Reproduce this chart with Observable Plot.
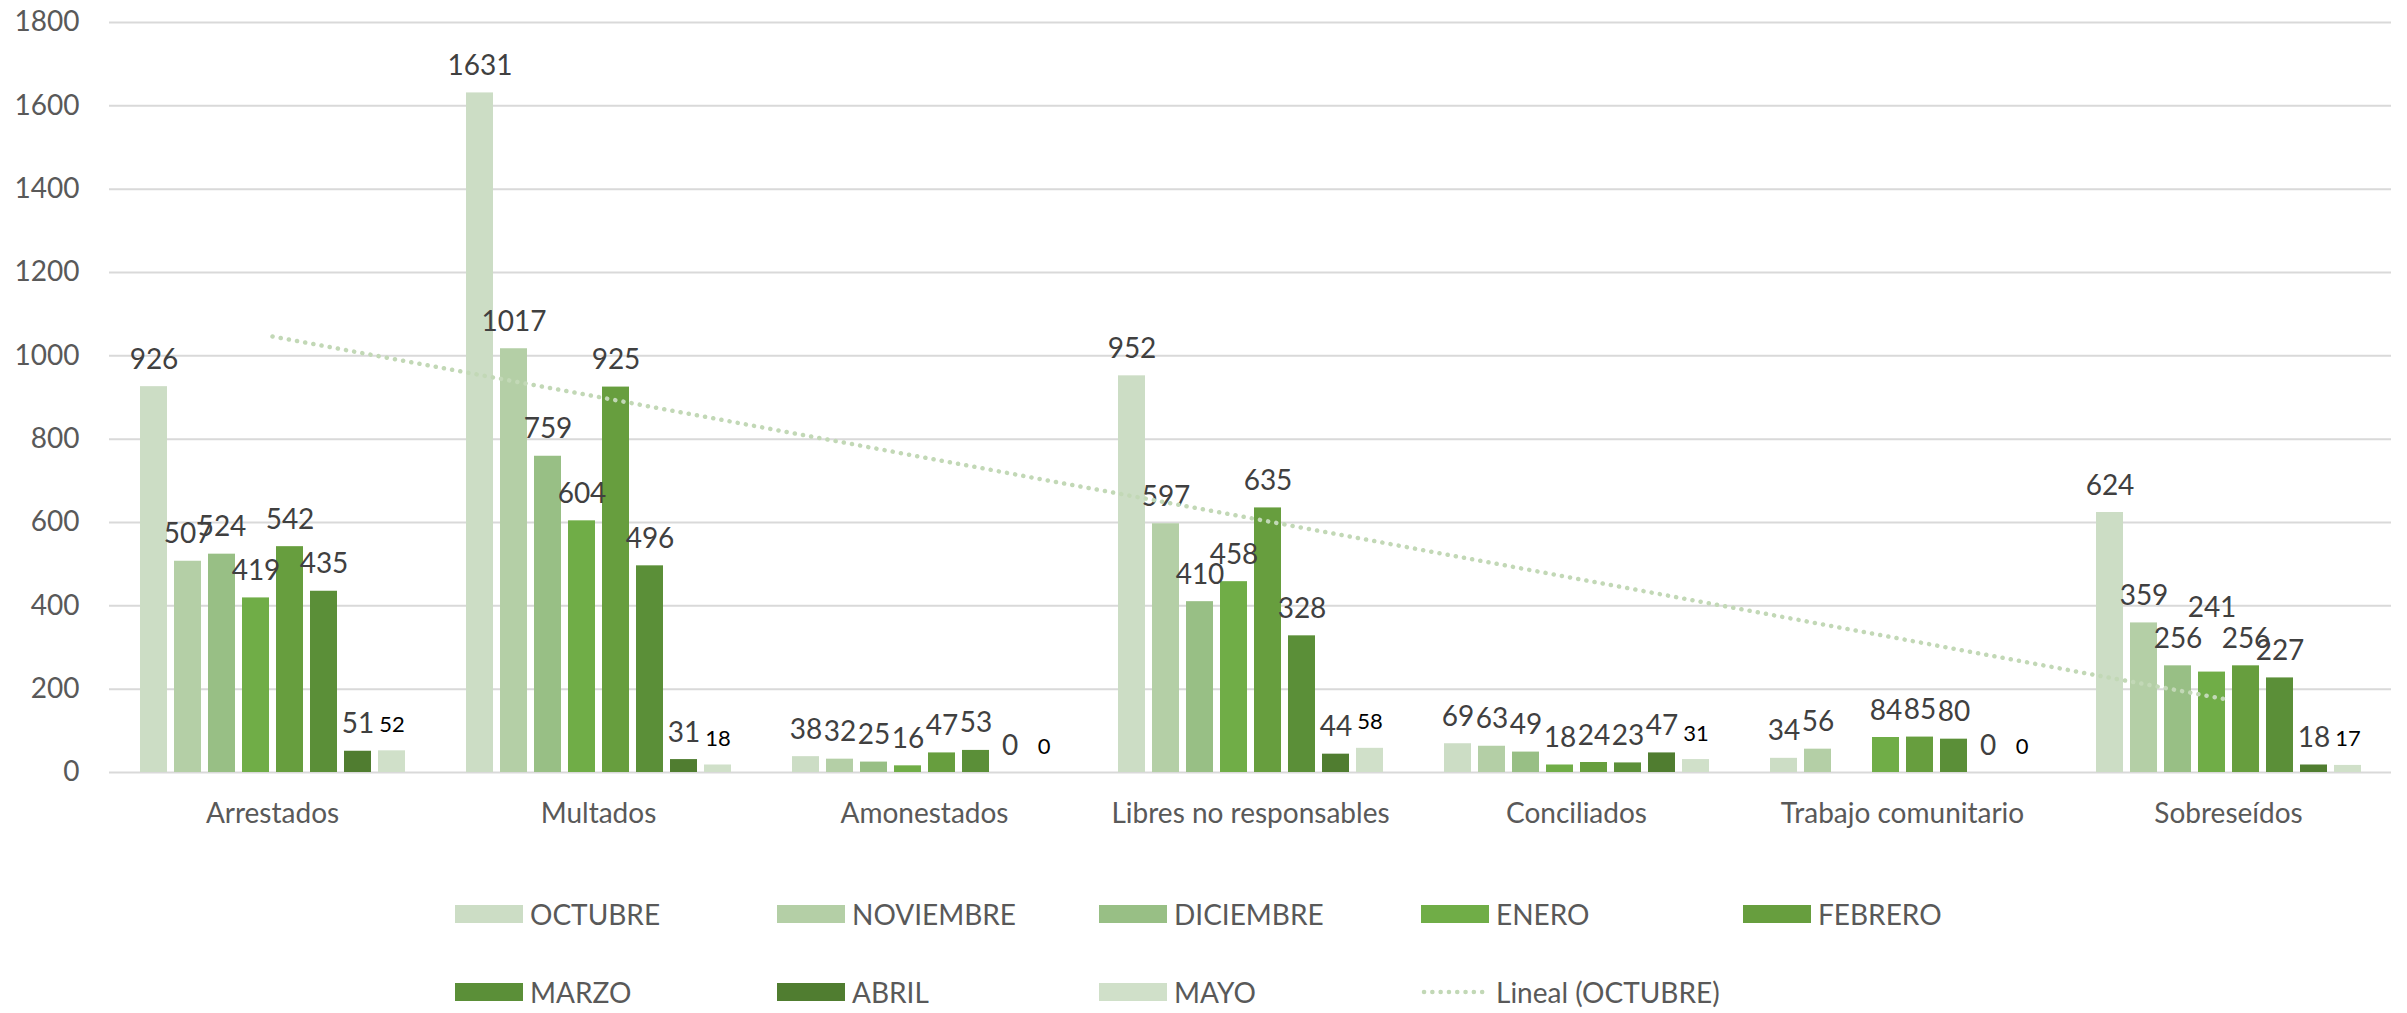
<!DOCTYPE html>
<html>
<head>
<meta charset="utf-8">
<script src="https://cdn.jsdelivr.net/npm/d3@7"></script>
<script src="https://cdn.jsdelivr.net/npm/@observablehq/plot@0.6"></script>
<style>
  body { margin: 0; background: #fff; font-family: Lato, "Open Sans", sans-serif; }
  #wrap { position: relative; width: 2407px; height: 1013px; overflow: hidden; }
  #wrap svg.layer { position: absolute; left: 0; top: 0; }
  .legend { position: absolute; left: 455px; top: 875px; display: grid;
            grid-template-columns: repeat(5, 322px); grid-auto-rows: 78px; }
  .item { display: flex; align-items: center; gap: 7px; color: #595959; font-size: 28px; line-height: 1; }
  .sw { width: 68px; height: 18px; flex: none; }
</style>
</head>
<body>
<div id="wrap"></div>
<script>
// Categories of case outcome and the months compared for each one
const categories = ["Arrestados", "Multados", "Amonestados", "Libres no responsables",
                    "Conciliados", "Trabajo comunitario", "Sobreseídos"];
const months = ["OCTUBRE", "NOVIEMBRE", "DICIEMBRE", "ENERO", "FEBRERO", "MARZO", "ABRIL", "MAYO"];

// Monthly counts, one value per category (null = no record)
const octubre   = [926, 1631, 38, 952, 69, 34, 624];
const noviembre = [507, 1017, 32, 597, 63, 56, 359];
const diciembre = [524, 759, 25, 410, 49, null, 256];
const enero     = [419, 604, 16, 458, 18, 84, 241];
const febrero   = [542, 925, 47, 635, 24, 85, 256];
const marzo     = [435, 496, 53, 328, 23, 80, 227];
const abril     = [51, 31, 0, 44, 47, 0, 18];
const mayo      = [52, 18, 0, 58, 31, 0, 17];

// Value labels raised above their neighbours to keep them readable
const liftedLabels = [["Sobreseídos", "ENERO"]];

const monthColors = ["#CCDDC5", "#B4CFA6", "#98BF85", "#70AD47", "#679E3E", "#5B8F38", "#507D30", "#D0E0C9"];
const trendColor = "#C2D8B6";
const yTicks = [0, 200, 400, 600, 800, 1000, 1200, 1400, 1600, 1800];
const trendLabel = "Lineal (OCTUBRE)";

const series = [octubre, noviembre, diciembre, enero, febrero, marzo, abril, mayo];
const rows = [];
categories.forEach((c, i) => {
  months.forEach((m, j) => {
    const v = series[j][i];
    if (v != null) rows.push({category: c, month: m, value: v});
  });
});
const isLifted = d => liftedLabels.some(([c, m]) => c === d.category && m === d.month);

// Least-squares linear trend of the OCTUBRE series over the category index
const n = octubre.length;
const xs = d3.range(1, n + 1);
const mx = d3.mean(xs), my = d3.mean(octubre);
const slope = d3.sum(xs, (x, k) => (x - mx) * (octubre[k] - my)) / d3.sum(xs, x => (x - mx) ** 2);
const intercept = my - slope * mx;
const trend = categories.map((c, k) => ({category: c, value: intercept + slope * xs[k]}));

const W = 2407, H = 850;
const margins = {marginLeft: 107, marginRight: 14, marginTop: 22, marginBottom: 78};
const font = "Lato, 'Open Sans', sans-serif";
const labelOpts = {fx: "category", x: "month", y: "value", text: d => String(d.value), lineAnchor: "bottom"};

const bars = Plot.plot({
  width: W, height: H, ...margins,
  style: {fontFamily: font, fontSize: "28px", color: "#595959", background: "transparent", overflow: "visible"},
  fx: {domain: categories, padding: 0, label: null, tickSize: 0, tickPadding: 31, axis: "bottom"},
  x: {domain: months, paddingInner: 0.21, paddingOuter: 0.865, axis: null},
  y: {domain: [0, 1800], ticks: yTicks, tickFormat: d => String(d), tickSize: 0, tickPadding: 30, label: null},
  color: {domain: months, range: monthColors},
  marks: [
    Plot.ruleY(yTicks, {stroke: "#D9D9D9", strokeWidth: 2}),
    Plot.barY(rows, {fx: "category", x: "month", y: "value", fill: "month"}),
    Plot.text(rows.filter(d => d.month !== "MAYO" && !isLifted(d)), {
      ...labelOpts, dy: -18, fill: "#404040", fontSize: 28
    }),
    Plot.text(rows.filter(d => isLifted(d)), {
      ...labelOpts, dy: -55, fill: "#404040", fontSize: 28
    }),
    Plot.text(rows.filter(d => d.month === "MAYO"), {
      ...labelOpts, dy: -19, fill: "#000000", fontSize: 22
    })
  ]
});
bars.classList.add("layer");

const trendPlot = Plot.plot({
  width: W, height: H, ...margins,
  style: {background: "transparent", overflow: "visible"},
  x: {type: "point", domain: categories, padding: 0.5, axis: null},
  y: {domain: [0, 1800], axis: null},
  marks: [
    Plot.line(trend, {x: "category", y: "value", stroke: trendColor, strokeWidth: 4.5,
                      strokeDasharray: "0.1 8.2", strokeLinecap: "round"})
  ]
});
trendPlot.classList.add("layer");
trendPlot.style.pointerEvents = "none";

const wrap = document.getElementById("wrap");
wrap.appendChild(bars);
wrap.appendChild(trendPlot);

// Legend: two rows of five entries
const legend = d3.select(wrap).append("div").attr("class", "legend");
months.forEach((m, j) => {
  const it = legend.append("div").attr("class", "item");
  it.append("div").attr("class", "sw").style("background", monthColors[j]);
  it.append("span").text(m);
});
const tItem = legend.append("div").attr("class", "item");
const tsvg = tItem.append("svg").attr("width", 68).attr("height", 18);
tsvg.append("line").attr("x1", 3).attr("x2", 66).attr("y1", 9).attr("y2", 9)
  .attr("stroke", trendColor).attr("stroke-width", 4.5)
  .attr("stroke-dasharray", "0.1 8.2").attr("stroke-linecap", "round");
tItem.append("span").text(trendLabel);
</script>
</body>
</html>
